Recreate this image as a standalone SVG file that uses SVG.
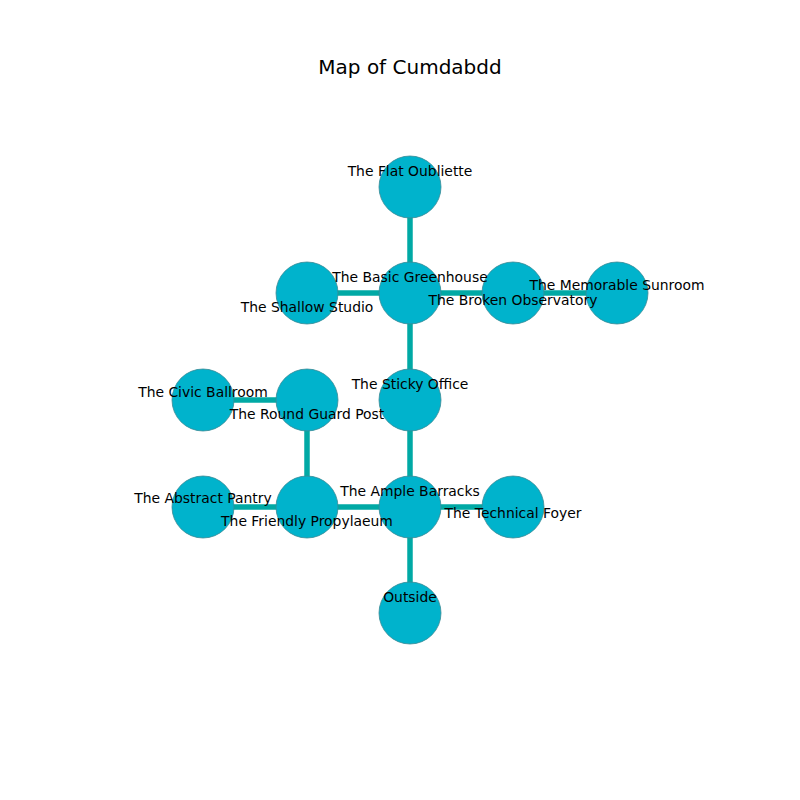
<svg xmlns="http://www.w3.org/2000/svg" width="800" height="800" viewBox="0 0 800 800">
<style>
.e{stroke:#00a9a5;stroke-width:5.5;fill:none}
.n{fill:#00b3cc;stroke:#3a8a96;stroke-width:0.8}
.l{font-family:"DejaVu Sans",sans-serif;font-size:13.9px;fill:#000;text-anchor:middle;dominant-baseline:central}
.t{font-family:"DejaVu Sans",sans-serif;font-size:20px;fill:#000;text-anchor:middle;dominant-baseline:central}
</style>
<rect width="800" height="800" fill="#fff"/>
<text class="t" x="410" y="67">Map of Cumdabdd</text>
<g id="edges">
<line class="e" x1="410" y1="187" x2="410" y2="293"/>
<line class="e" x1="307" y1="293" x2="617" y2="293"/>
<line class="e" x1="410" y1="293" x2="410" y2="613"/>
<line class="e" x1="203" y1="400" x2="307" y2="400"/>
<line class="e" x1="307" y1="400" x2="307" y2="507"/>
<line class="e" x1="203" y1="507" x2="513" y2="507"/>
</g>
<g id="nodes">
<g id="n-flat"><circle class="n" cx="410" cy="187" r="31"/></g>
<g id="n-shallow"><circle class="n" cx="307" cy="293" r="31"/></g>
<g id="n-basic"><circle class="n" cx="410" cy="293" r="31"/></g>
<g id="n-broken"><circle class="n" cx="513" cy="293" r="31"/></g>
<g id="n-memorable"><circle class="n" cx="617" cy="293" r="31"/></g>
<g id="n-civic"><circle class="n" cx="203" cy="400" r="31"/></g>
<g id="n-round"><circle class="n" cx="307" cy="400" r="31"/></g>
<g id="n-sticky"><circle class="n" cx="410" cy="400" r="31"/></g>
<g id="n-abstract"><circle class="n" cx="203" cy="507" r="31"/></g>
<g id="n-friendly"><circle class="n" cx="307" cy="507" r="31"/></g>
<g id="n-ample"><circle class="n" cx="410" cy="507" r="31"/></g>
<g id="n-technical"><circle class="n" cx="513" cy="507" r="31"/></g>
<g id="n-outside"><circle class="n" cx="410" cy="613" r="31"/></g>
</g>
<g id="labels">
<text class="l" x="410" y="171">The Flat Oubliette</text>
<text class="l" x="307" y="307">The Shallow Studio</text>
<text class="l" x="410" y="277">The Basic Greenhouse</text>
<text class="l" x="513" y="300">The Broken Observatory</text>
<text class="l" x="617" y="285">The Memorable Sunroom</text>
<text class="l" x="203" y="392">The Civic Ballroom</text>
<text class="l" x="307" y="414">The Round Guard Post</text>
<text class="l" x="410" y="384">The Sticky Office</text>
<text class="l" x="203" y="498">The Abstract Pantry</text>
<text class="l" x="307" y="521">The Friendly Propylaeum</text>
<text class="l" x="410" y="491">The Ample Barracks</text>
<text class="l" x="513" y="513">The Technical Foyer</text>
<text class="l" x="410" y="597">Outside</text>
</g>
</svg>
